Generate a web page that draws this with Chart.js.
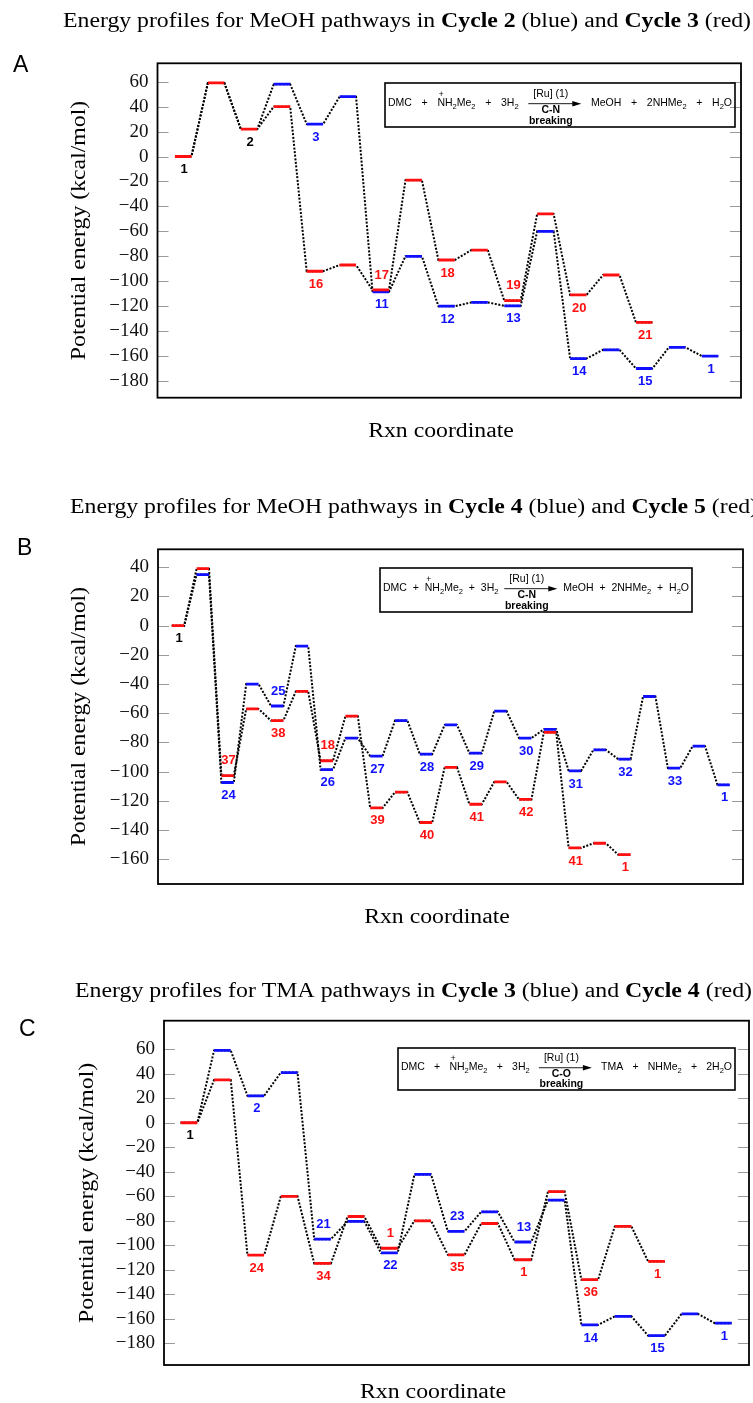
<!DOCTYPE html>
<html lang="en">
<head>
<meta charset="UTF-8">
<title>Energy profiles</title>
<script src="https://cdn.jsdelivr.net/npm/chart.js"></script>
<style>
  body { margin: 0; background: #fff; }
  #page { position: relative; width: 753px; height: 1403px; overflow: hidden; }
  canvas { position: absolute; left: 0; }
</style>
</head>
<body>
<div id="page">
  <canvas id="chartA" width="753" height="465" style="top:0px"></canvas>
  <canvas id="chartB" width="753" height="480" style="top:465px"></canvas>
  <canvas id="chartC" width="753" height="458" style="top:945px"></canvas>
</div>
<script>
// ---- data (kcal/mol, one value per state along the reaction coordinate) ----
// A: MeOH, Cycle 2 (blue) / Cycle 3 (red)
const redA  = [0, 59, 22, 40, -92, -87, -107, -19, -83, -75, -115.5, -46, -111, -95, -133];
const blueA = [0, 59, 22, 58, 26, 48, -108.5, -80, -120, -117, -119.7, -60, -162, -155, -170, -153, -160];
const sharedA = 3;   // first states common to both paths
const redLabelsA  = ['1', '', '2', '', '16', '', '17', '', '18', '', '19', '', '20', '', '21'];
const blueLabelsA = ['', '', '', '', '3', '', '11', '', '12', '', '13', '', '14', '', '15', '', '1'];
const ticksA = [60, 40, 20, 0, -20, -40, -60, -80, -100, -120, -140, -160, -180];

// B: MeOH, Cycle 4 (blue) / Cycle 5 (red)
const redB  = [0, 39, -102.7, -57, -65, -45, -92.5, -62, -124.8, -114, -134.8, -97, -122.3, -107, -119, -73, -152.2, -149, -156.8];
const blueB = [0, 35, -107.4, -40, -55, -14, -98.6, -77, -89.3, -65, -88, -68, -87.3, -58.5, -77, -71, -99.5, -85, -91.4, -48.5, -97.5, -82.5, -109];
const sharedB = 1;
const redLabelsB  = ['1', '', '37', '', '38', '', '18', '', '39', '', '40', '', '41', '', '42', '', '41', '', '1'];
const blueLabelsB = ['', '', '24', '', '25', '', '26', '', '27', '', '28', '', '29', '', '30', '', '31', '', '32', '', '33', '', '1'];
const ticksB = [40, 20, 0, -20, -40, -60, -80, -100, -120, -140, -160];

// C: TMA, Cycle 3 (blue) / Cycle 4 (red)
const redC  = [0, 35, -108, -60, -114.8, -76.5, -102.4, -80, -107.8, -82.2, -111.8, -56.2, -128.1, -84.6, -113.2];
const blueC = [0, 59, 22, 41, -95, -80.5, -106.2, -42.2, -88.6, -72.7, -97.3, -63.2, -165, -158, -173.8, -156, -163.6];
const sharedC = 1;
const redLabelsC  = ['1', '', '24', '', '34', '', '1', '', '35', '', '1', '', '36', '', '1'];
const blueLabelsC = ['', '', '2', '', '21', '', '22', '', '23', '', '13', '', '14', '', '15', '', '1'];
const ticksC = [60, 40, 20, 0, -20, -40, -60, -80, -100, -120, -140, -160, -180];

const titleA = ['Energy profiles for MeOH pathways in ', 'Cycle 2', ' (blue) and ', 'Cycle 3', ' (red)'];
const titleB = ['Energy profiles for MeOH pathways in ', 'Cycle 4', ' (blue) and ', 'Cycle 5', ' (red)'];
const titleC = ['Energy profiles for TMA pathways in ', 'Cycle 3', ' (blue) and ', 'Cycle 4', ' (red)'];

// reaction schemes in the insets: '_' = subscript, '^' = charge above next letter, '>' = arrow
const schemeMeOH = ['DMC', '+', '^NH_2Me_2', '+', '3H_2', '>', 'MeOH', '+', '2NHMe_2', '+', 'H_2O'];
const schemeTMA  = ['DMC', '+', '^NH_2Me_2', '+', '3H_2', '>', 'TMA', '+', 'NHMe_2', '+', '2H_2O'];
const arrowCN = ['C-N', 'breaking'];
const arrowCO = ['C-O', 'breaking'];

const yTitle = 'Potential energy (kcal/mol)';
const xTitle = 'Rxn coordinate';

// ---- layout ----
const SERIF = '"Liberation Serif", "Times New Roman", serif';
const SANS = '"Liberation Sans", Arial, sans-serif';
const RED = '#ff1010';
const BLUE = '#1010ff';
const HW = 0.25;   // half width of an energy level, in state units

const panels = [
  { id: 'chartA', top: 0, height: 465, red: redA, blue: blueA, shared: sharedA,
    redLabels: redLabelsA, blueLabels: blueLabelsA, ticks: ticksA,
    area: { left: 157.5, right: 741, top: 63.3, bottom: 397.7 },
    yMin: -193.4, yMax: 74.75, xMin: -0.78, xMax: 16.94,
    title: titleA, titleX: 63, titleY: 22, titleW: 688,
    letter: 'A', letterX: 13, letterY: 66,
    yTitleX: 80, xTitleX: 441, xTitleY: 432,
    inset: { x: 385, y: 83, w: 350, h: 44 }, scheme: schemeMeOH, under: arrowCN,
    redAbove: [6, 10], blueAbove: [] },
  { id: 'chartB', top: 465, height: 480, red: redB, blue: blueB, shared: sharedB,
    redLabels: redLabelsB, blueLabels: blueLabelsB, ticks: ticksB,
    area: { left: 158, right: 743, top: 549.3, bottom: 884 },
    yMin: -176.9, yMax: 52.3, xMin: -0.806, xMax: 22.78,
    title: titleB, titleX: 70, titleY: 508, titleW: 688,
    letter: 'B', letterX: 17, letterY: 549,
    yTitleX: 80, xTitleX: 437, xTitleY: 918,
    inset: { x: 380, y: 568, w: 312, h: 44 }, scheme: schemeMeOH, under: arrowCN,
    redAbove: [2, 6], blueAbove: [4] },
  { id: 'chartC', top: 945, height: 458, red: redC, blue: blueC, shared: sharedC,
    redLabels: redLabelsC, blueLabels: blueLabelsC, ticks: ticksC,
    area: { left: 164, right: 749, top: 1020.7, bottom: 1365 },
    yMin: -197.7, yMax: 83.3, xMin: -0.749, xMax: 16.77,
    title: titleC, titleX: 75, titleY: 991.7, titleW: 677,
    letter: 'C', letterX: 19, letterY: 1030,
    yTitleX: 88, xTitleX: 433, xTitleY: 1393,
    inset: { x: 398, y: 1048, w: 337, h: 42 }, scheme: schemeTMA, under: arrowCO,
    redAbove: [6], blueAbove: [4, 8, 10] }
];

function levelPoints(values, from) {
  const pts = [];
  values.forEach((v, i) => {
    if (i < from) return;
    pts.push({ x: i - HW, y: v }, { x: i + HW, y: v }, { x: i + HW, y: null });
  });
  return pts;
}
function pathPoints(values) {
  const pts = [];
  values.forEach((v, i) => pts.push({ x: i - HW, y: v }, { x: i + HW, y: v }));
  return pts;
}
const fmt = v => (v < 0 ? '\u2212' + Math.abs(v) : String(v));

function measureParts(ctx, parts, size) {
  let w = 0;
  parts.forEach((t, i) => {
    ctx.font = (i % 2 ? 'bold ' : '') + size + 'px ' + SERIF;
    w += ctx.measureText(t).width;
  });
  return w;
}

function richWidth(ctx, s, size) {
  let w = 0;
  for (let i = 0; i < s.length; i++) {
    let c = s[i];
    if (c === '^') continue;
    if (c === '_') { c = s[++i]; ctx.font = (size * 0.72) + 'px ' + SANS; }
    else ctx.font = size + 'px ' + SANS;
    w += ctx.measureText(c).width;
  }
  return w;
}
function drawRich(ctx, s, x, y, size) {
  let charge = false;
  ctx.textAlign = 'left';
  for (let i = 0; i < s.length; i++) {
    let c = s[i];
    if (c === '^') { charge = true; continue; }
    if (c === '_') {
      c = s[++i];
      ctx.font = (size * 0.72) + 'px ' + SANS;
      ctx.fillText(c, x, y + size * 0.3);
      x += ctx.measureText(c).width;
      continue;
    }
    ctx.font = size + 'px ' + SANS;
    ctx.fillText(c, x, y);
    const cw = ctx.measureText(c).width;
    if (charge) {
      ctx.font = (size * 0.8) + 'px ' + SANS;
      ctx.textAlign = 'center';
      ctx.fillText('+', x + cw / 2, y - size * 0.9);
      ctx.textAlign = 'left';
      charge = false;
    }
    x += cw;
  }
}

function drawInset(ctx, p, top) {
  const b = p.inset, y0 = b.y - top, fs = 10.5;
  ctx.save();
  ctx.strokeStyle = '#000';
  ctx.lineWidth = 1.6;
  ctx.strokeRect(b.x, y0, b.w, b.h);
  ctx.fillStyle = '#000';
  ctx.textBaseline = 'alphabetic';
  ctx.font = fs + 'px ' + SANS;
  const ruW = ctx.measureText('[Ru] (1)').width;
  const arrowW = ruW + 18;
  const widths = p.scheme.map(s => (s === '>' ? arrowW : richWidth(ctx, s, fs)));
  const total = widths.reduce((a, w) => a + w, 0);
  const margin = 3;
  const gap = (b.w - 2 * margin - total) / (p.scheme.length - 1);
  let x = b.x + margin;
  const base = y0 + b.h * 0.53;
  p.scheme.forEach((s, i) => {
    if (s === '>') {
      const ay = y0 + b.h * 0.47;
      ctx.lineWidth = 0.9;
      ctx.beginPath(); ctx.moveTo(x, ay); ctx.lineTo(x + arrowW - 6, ay); ctx.stroke();
      ctx.beginPath(); ctx.moveTo(x + arrowW, ay); ctx.lineTo(x + arrowW - 9, ay - 2.8);
      ctx.lineTo(x + arrowW - 9, ay + 2.8); ctx.closePath(); ctx.fill();
      const cx = x + (arrowW - 8) / 2;
      ctx.textAlign = 'center';
      ctx.font = fs + 'px ' + SANS;
      ctx.fillText('[Ru] (1)', cx, y0 + b.h * 0.31);
      ctx.font = 'bold ' + fs + 'px ' + SANS;
      ctx.fillText(p.under[0], cx, y0 + b.h * 0.68);
      ctx.fillText(p.under[1], cx, y0 + b.h * 0.93);
    } else {
      drawRich(ctx, s, x, base, fs);
    }
    x += widths[i] + gap;
  });
  ctx.restore();
}

function decor(p) {
  return {
    id: 'decor' + p.id,
    afterDraw(chart) {
      const ctx = chart.ctx, a = chart.chartArea, top = p.top;
      const xs = chart.scales.x, ys = chart.scales.y;
      ctx.save();
      // inner tick marks
      ctx.strokeStyle = '#9a9a9a';
      ctx.lineWidth = 1;
      p.ticks.forEach(v => {
        const y = Math.round(ys.getPixelForValue(v)) + 0.5;
        ctx.beginPath();
        ctx.moveTo(a.left, y); ctx.lineTo(a.left + 11, y);
        ctx.moveTo(a.right - 11, y); ctx.lineTo(a.right, y);
        ctx.stroke();
      });
      // frame
      ctx.strokeStyle = '#000';
      ctx.lineWidth = 1.8;
      ctx.strokeRect(a.left, a.top, a.right - a.left, a.bottom - a.top);

      // title with bold parts
      ctx.fillStyle = '#000';
      ctx.textBaseline = 'middle';
      ctx.textAlign = 'left';
      const tsize = 20;
      const natural = measureParts(ctx, p.title, tsize);
      const sx = p.titleW / natural;
      ctx.save();
      ctx.translate(p.titleX, p.titleY - top);
      ctx.scale(sx, 1);
      let x = 0;
      p.title.forEach((t, i) => {
        ctx.font = (i % 2 ? 'bold ' : '') + tsize + 'px ' + SERIF;
        ctx.fillText(t, x, 0);
        x += ctx.measureText(t).width;
      });
      ctx.restore();

      // axis titles
      ctx.font = tsize + 'px ' + SERIF;
      ctx.textAlign = 'center';
      ctx.save();
      ctx.translate(p.xTitleX, p.xTitleY - top);
      ctx.scale(sx, 1);
      ctx.fillText(xTitle, 0, 0);
      ctx.restore();
      ctx.save();
      ctx.translate(p.yTitleX, (a.top + a.bottom) / 2);
      ctx.rotate(-Math.PI / 2);
      ctx.scale(sx, 1);
      ctx.fillText(yTitle, 0, 0);
      ctx.restore();

      // panel letter
      ctx.font = '23px ' + SANS;
      ctx.textAlign = 'left';
      ctx.fillText(p.letter, p.letterX, p.letterY - top);

      drawInset(ctx, p, top);

      // state labels
      ctx.font = 'bold 13px ' + SANS;
      ctx.textAlign = 'center';
      ctx.textBaseline = 'middle';
      const put = (labels, values, color, above) => {
        labels.forEach((t, i) => {
          if (!t) return;
          const px = xs.getPixelForValue(i) + 1;
          const py = ys.getPixelForValue(values[i]) + (above.includes(i) ? -15 : 13);
          ctx.fillStyle = i < p.shared ? '#000' : color;
          ctx.fillText(t, px, py);
        });
      };
      put(p.redLabels, p.red, RED, p.redAbove);
      put(p.blueLabels, p.blue, BLUE, p.blueAbove);
      ctx.restore();
    }
  };
}

panels.forEach(p => {
  const ar = p.area;
  const ctx = document.getElementById(p.id).getContext('2d');
  new Chart(ctx, {
    type: 'line',
    data: {
      datasets: [
        { data: levelPoints(p.red, 0), borderColor: RED, borderWidth: 2.8, pointRadius: 0, order: 0, borderCapStyle: 'butt' },
        { data: levelPoints(p.blue, p.shared), borderColor: BLUE, borderWidth: 2.8, pointRadius: 0, order: 1, borderCapStyle: 'butt' },
        { data: pathPoints(p.red), borderColor: '#000', borderWidth: 2, borderDash: [2, 1.6], pointRadius: 0, order: 2 },
        { data: pathPoints(p.blue), borderColor: '#000', borderWidth: 2, borderDash: [2, 1.6], pointRadius: 0, order: 3 }
      ]
    },
    options: {
      responsive: false,
      animation: false,
      events: [],
      layout: { padding: { left: 0, top: ar.top - p.top, right: 753 - ar.right, bottom: p.height - (ar.bottom - p.top) } },
      plugins: { legend: { display: false }, tooltip: { enabled: false } },
      scales: {
        x: { type: 'linear', display: false, min: p.xMin, max: p.xMax },
        y: {
          min: p.yMin, max: p.yMax,
          grid: { display: false, drawTicks: false },
          border: { display: false },
          ticks: { color: '#111', padding: 9, font: { family: SERIF, size: 19 }, callback: v => fmt(v) },
          afterBuildTicks: s => { s.ticks = p.ticks.map(v => ({ value: v })); },
          afterFit: s => { s.width = ar.left; }
        }
      }
    },
    plugins: [decor(p)]
  });
});
</script>
</body>
</html>
